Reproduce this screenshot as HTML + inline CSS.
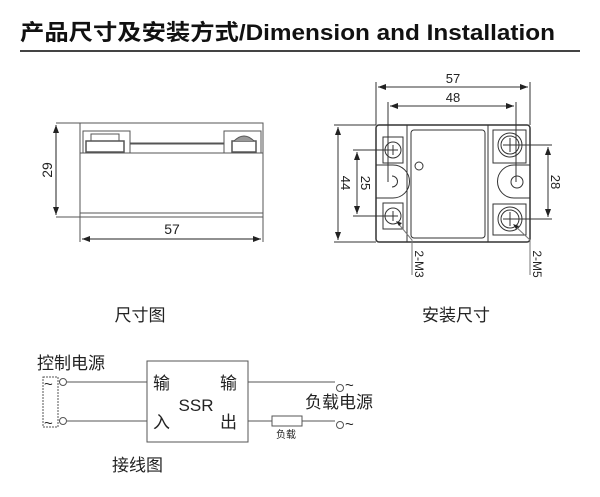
<!DOCTYPE html>
<html><head><meta charset="utf-8"><style>
html,body{margin:0;padding:0;background:#fff;}
svg{display:block}
text{font-family:"Liberation Sans","Noto Sans CJK SC",sans-serif;}
</style></head><body>
<svg width="600" height="497" viewBox="0 0 600 497" xmlns="http://www.w3.org/2000/svg">
<defs>
<marker id="a" markerWidth="8" markerHeight="6" refX="8" refY="3" orient="auto-start-reverse" markerUnits="userSpaceOnUse"><path d="M0,0 L8,3 L0,6 z" fill="#222"/></marker>
</defs>
<text x="20" y="40" font-size="22" font-weight="bold" fill="#111" textLength="535" lengthAdjust="spacingAndGlyphs">产品尺寸及安装方式/Dimension and  Installation</text>
<rect x="20" y="50" width="560" height="2" fill="#444"/>

<g stroke="#555" fill="none" stroke-width="1">
<rect x="80" y="123" width="183" height="94"/>
<line x1="80" y1="153" x2="263" y2="153"/>
<line x1="80" y1="213" x2="263" y2="213"/>
<rect x="83" y="131" width="47" height="22"/>
<rect x="224" y="131" width="37" height="22"/>
<rect x="86" y="141" width="38" height="11" stroke-width="1.5"/>
<rect x="91" y="134" width="28" height="7"/>
<line x1="130" y1="143" x2="224" y2="143"/>
<line x1="130" y1="144" x2="224" y2="144"/>
<rect x="232" y="141" width="24" height="11" stroke-width="1.5"/>
<path d="M234,141 Q244,131 254,141" fill="#999"/>
<line x1="56" y1="123" x2="80" y2="123"/>
<line x1="56" y1="217" x2="80" y2="217"/>
<line x1="56" y1="125" x2="56" y2="215" marker-start="url(#a)" marker-end="url(#a)" stroke="#222"/>
<line x1="80" y1="217" x2="80" y2="242"/>
<line x1="263" y1="217" x2="263" y2="242"/>
<line x1="82" y1="239" x2="261" y2="239" marker-start="url(#a)" marker-end="url(#a)" stroke="#222"/>
</g>
<text x="172" y="234" font-size="14" text-anchor="middle" fill="#222">57</text>
<text transform="translate(52,170) rotate(-90)" font-size="14" text-anchor="middle" fill="#222">29</text>

<g stroke="#333" fill="none" stroke-width="1">
<rect x="376" y="125" width="154" height="117" rx="3" stroke-width="1.5"/>
<line x1="407" y1="125" x2="407" y2="242"/>
<line x1="488" y1="125" x2="488" y2="242"/>
<rect x="411" y="130" width="74" height="108" rx="3"/>
<circle cx="419" cy="166" r="4"/>
<rect x="383" y="137" width="20" height="26"/>
<rect x="383" y="203" width="20" height="26"/>
<circle cx="393" cy="150" r="8"/><path d="M388,150 h10 M393,145 v10"/>
<circle cx="393" cy="216" r="8"/><path d="M388,216 h10 M393,211 v10"/>
<rect x="493" y="130" width="33" height="33"/>
<rect x="493" y="204" width="33" height="31"/>
<circle cx="510" cy="145" r="12"/><circle cx="510" cy="145" r="9"/><path d="M503,145 h14 M510,138 v14"/>
<circle cx="510" cy="219" r="12"/><circle cx="510" cy="219" r="9"/><path d="M503,219 h14 M510,212 v14"/>
<path d="M376,165 h17 a16,16 0 0 1 0,33 h-17"/>
<path d="M392,176 a5,5 0 0 1 0,11"/>
<path d="M530,165 h-16 a16,16 0 0 0 0,33 h16" />
<circle cx="517" cy="182" r="6"/>
<line x1="376" y1="125" x2="376" y2="82"/>
<line x1="530" y1="125" x2="530" y2="82"/>
<line x1="378" y1="87" x2="528" y2="87" marker-start="url(#a)" marker-end="url(#a)"/>
<line x1="388" y1="102" x2="388" y2="182"/>
<line x1="516" y1="102" x2="516" y2="182"/>
<line x1="390" y1="106" x2="514" y2="106" marker-start="url(#a)" marker-end="url(#a)"/>
<line x1="334" y1="125" x2="376" y2="125"/>
<line x1="334" y1="242" x2="376" y2="242"/>
<line x1="338" y1="127" x2="338" y2="240" marker-start="url(#a)" marker-end="url(#a)"/>
<line x1="353" y1="150" x2="393" y2="150"/>
<line x1="353" y1="216" x2="393" y2="216"/>
<line x1="357" y1="152" x2="357" y2="214" marker-start="url(#a)" marker-end="url(#a)"/>
<line x1="510" y1="145" x2="552" y2="145"/>
<line x1="510" y1="219" x2="552" y2="219"/>
<line x1="548" y1="147" x2="548" y2="217" marker-start="url(#a)" marker-end="url(#a)"/>
<path d="M397,222 L412,240 V275" stroke="#777"/>
<path d="M514,225 L530,240 V275" stroke="#777"/>
</g>
<path d="M396,221 l6,2 l-3,3 z" fill="#222"/>
<path d="M513,224 l6,2 l-3,3 z" fill="#222"/>
<text x="453" y="83" font-size="13" text-anchor="middle" fill="#222">57</text>
<text x="453" y="102" font-size="13" text-anchor="middle" fill="#222">48</text>
<text transform="translate(341,183) rotate(90)" font-size="13" text-anchor="middle" fill="#222">44</text>
<text transform="translate(361,183) rotate(90)" font-size="13" text-anchor="middle" fill="#222">25</text>
<text transform="translate(551,182) rotate(90)" font-size="13" text-anchor="middle" fill="#222">28</text>
<text transform="translate(415,264) rotate(90)" font-size="12" text-anchor="middle" fill="#222">2-M3</text>
<text transform="translate(533,264) rotate(90)" font-size="12" text-anchor="middle" fill="#222">2-M5</text>

<text x="140" y="321" font-size="17" text-anchor="middle" fill="#222">尺寸图</text>
<text x="456" y="321" font-size="17" text-anchor="middle" fill="#222">安装尺寸</text>

<text x="37" y="369" font-size="17" fill="#222">控制电源</text>
<rect x="43" y="377" width="15" height="50" fill="none" stroke="#555" stroke-dasharray="2,1"/>
<text x="44" y="389" font-size="15" fill="#222">~</text>
<text x="44" y="428" font-size="15" fill="#222">~</text>
<g stroke="#555" fill="none">
<circle cx="63" cy="382" r="3.5"/><circle cx="63" cy="421" r="3.5"/>
<line x1="67" y1="382" x2="147" y2="382"/>
<line x1="67" y1="421" x2="147" y2="421"/>
<rect x="147" y="361" width="101" height="81"/>
<line x1="248" y1="382" x2="335" y2="382"/>
<line x1="248" y1="421" x2="272" y2="421"/>
<rect x="272" y="416" width="30" height="10"/>
<line x1="302" y1="421" x2="335" y2="421"/>
<circle cx="340" cy="388" r="3.5"/><circle cx="340" cy="425" r="3.5"/>
</g>
<text x="153" y="389" font-size="17" fill="#222">输</text>
<text x="153" y="428" font-size="17" fill="#222">入</text>
<text x="220" y="389" font-size="17" fill="#222">输</text>
<text x="220" y="428" font-size="17" fill="#222">出</text>
<text x="196" y="411" font-size="17" text-anchor="middle" fill="#222">SSR</text>
<text x="345" y="390" font-size="15" fill="#222">~</text>
<text x="345" y="429" font-size="15" fill="#222">~</text>
<text x="305" y="408" font-size="17" fill="#222">负载电源</text>
<text x="286" y="438" font-size="10" text-anchor="middle" fill="#222">负载</text>
<text x="112" y="471" font-size="17" fill="#222">接线图</text>
</svg>
</body></html>
